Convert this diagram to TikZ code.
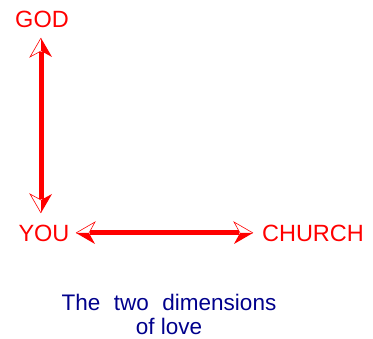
\documentclass[tikz,border=0pt]{standalone}
\usepackage{fontspec}
\setmainfont{Liberation Sans}
\definecolor{capblue}{RGB}{0,0,140}
\newcommand\halfhead[3]{\begin{scope}[shift={(#1)},rotate=#2]
\fill[red] (0,0) -- (-19,{#3*11}) -- (-13,0) -- cycle;
\draw[red, line width=0.6pt, line join=miter] (0,0) -- (-19,{-#3*11}) -- (-13,0);
\end{scope}}
\begin{document}
\begin{tikzpicture}[x=1pt,y=1pt,
  lab/.style={text=red, font=\fontsize{23.5}{24}\selectfont, inner sep=0pt},
  shaft/.style={draw=red, line width=5pt}]
\useasboundingbox (0,0) rectangle (373,339);
\node[lab] (god) at (42,320) {GOD};
\node[lab] (you) at (44,106) {YOU};
\node[lab] (church) at (313,106) {CHURCH};
\node[text=capblue, font=\fontsize{22.5}{24}\selectfont, align=center, inner sep=0pt] (cap) at (169,25) {The\hspace{0.6em}two\hspace{0.6em}dimensions\\of love};
\coordinate (gt) at (41,301);
\coordinate (yt) at (41,126);
\coordinate (lt) at (76,106);
\coordinate (rt) at (253,106);
\draw[shaft] ([yshift=-14]gt) -- ([yshift=14]yt);
\draw[shaft] ([xshift=14]lt) -- ([xshift=-14]rt);
\halfhead{gt}{90}{-1}
\halfhead{yt}{-90}{1}
\halfhead{lt}{180}{1}
\halfhead{rt}{0}{-1}
\end{tikzpicture}
\end{document}
